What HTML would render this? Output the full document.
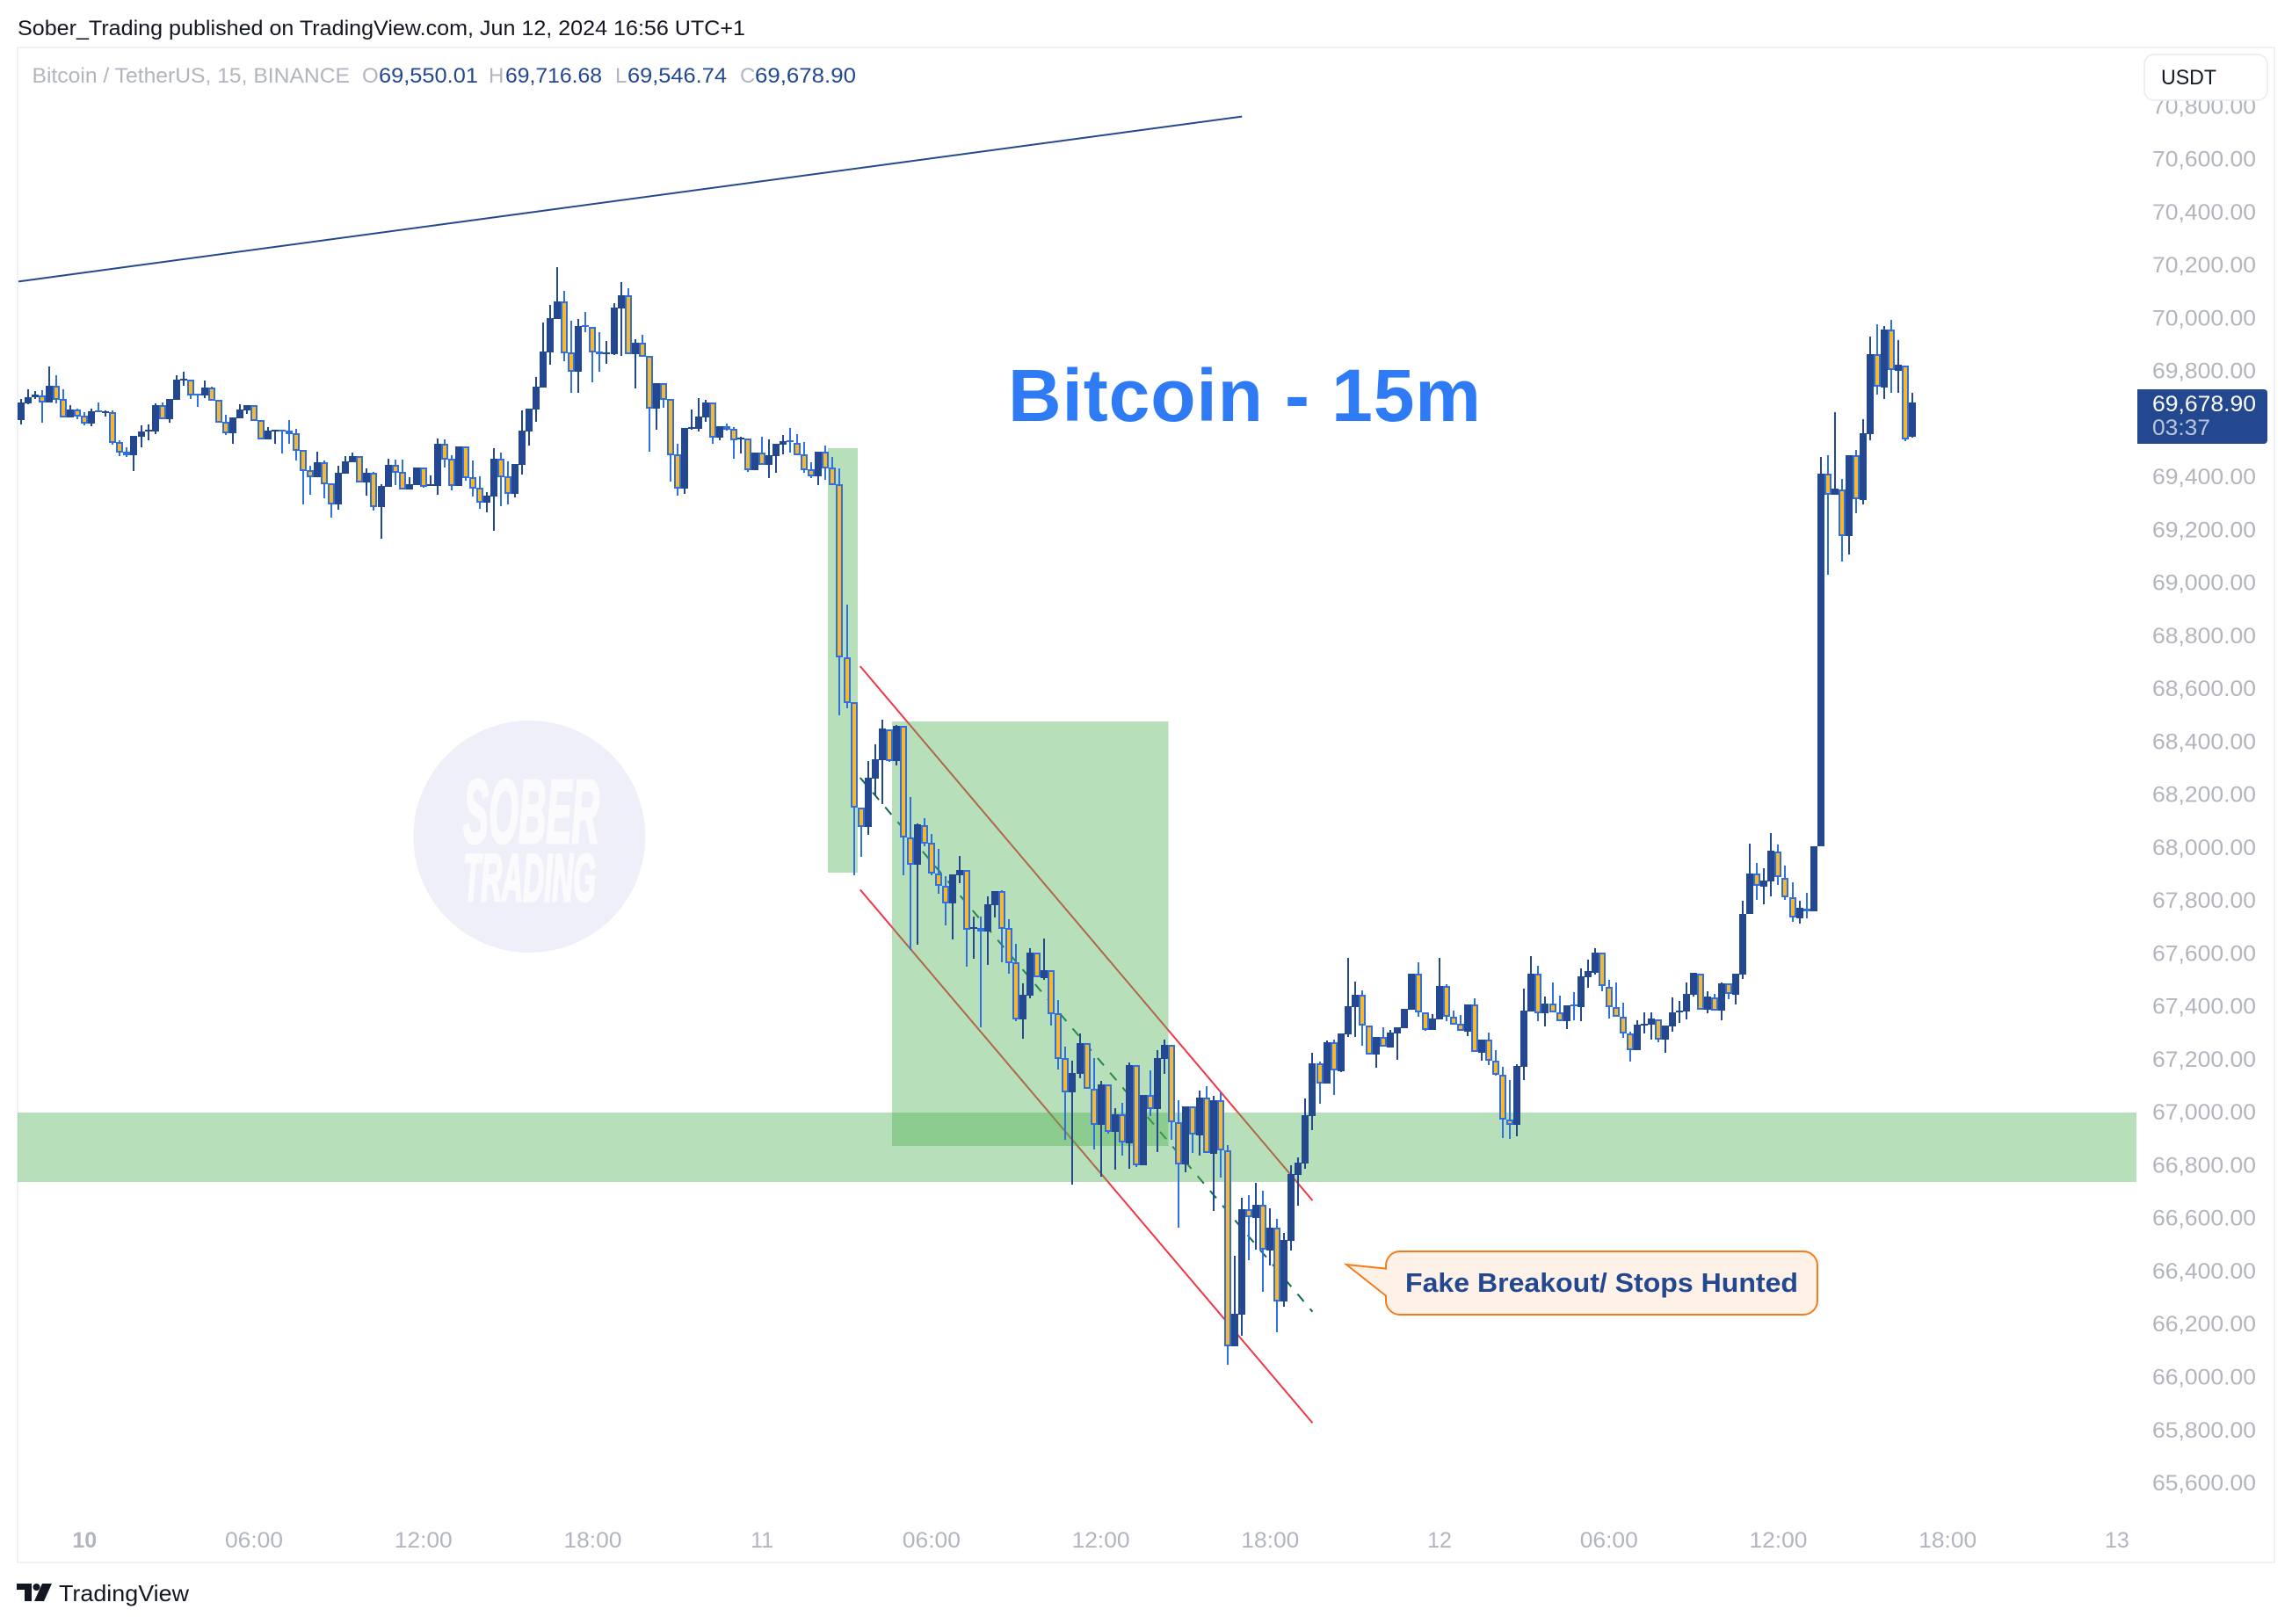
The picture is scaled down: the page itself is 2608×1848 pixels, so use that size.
<!DOCTYPE html>
<html lang="en">
<head>
<meta charset="utf-8">
<title>Bitcoin / TetherUS 15m chart</title>
<style>
html,body{margin:0;padding:0;background:#fff;}
svg{display:block;}
text{font-family:"Liberation Sans",sans-serif;}
</style>
</head>
<body>
<svg id="chart" xmlns="http://www.w3.org/2000/svg" width="2608" height="1848" viewBox="0 0 2608 1848">
  <rect x="0" y="0" width="2608" height="1848" fill="#ffffff"/>
  <text x="20" y="40" font-size="24" fill="#131722" textLength="828" lengthAdjust="spacingAndGlyphs">Sober_Trading published on TradingView.com, Jun 12, 2024 16:56 UTC+1</text>
  <rect x="20" y="54" width="2568" height="1724" fill="none" stroke="#f0f1f7" stroke-width="2" shape-rendering="crispEdges"/>

  <g>
    <circle cx="602.4" cy="952" r="132" fill="#eeeff9"/>
    <text x="527" y="959" font-size="103" font-weight="700" font-style="italic" fill="#fbfbfe" stroke="#fbfbfe" stroke-width="3" textLength="155" lengthAdjust="spacingAndGlyphs">SOBER</text>
    <text x="527" y="1025" font-size="76" font-weight="700" font-style="italic" fill="#fbfbfe" stroke="#fbfbfe" stroke-width="3" textLength="151" lengthAdjust="spacingAndGlyphs">TRADING</text>
  </g>

  <g id="drawings-under"></g>
  <g id="zones"></g>
  <g id="candles" shape-rendering="crispEdges"></g>

  <text x="1147" y="479" font-size="84" font-weight="700" fill="#2f7bf6" textLength="538" lengthAdjust="spacing">Bitcoin - 15m</text>

  <g>
    <path d="M1593 1424 H2052 A16 16 0 0 1 2068 1440 V1480 A16 16 0 0 1 2052 1496 H1593 A16 16 0 0 1 1577 1480 V1474.5 L1532 1439 L1577 1443.6 V1440 A16 16 0 0 1 1593 1424 Z" fill="#fdf1e8" stroke="#f57c17" stroke-width="2"/>
    <text x="1599" y="1470" font-size="31" font-weight="700" fill="#23488f" textLength="447" lengthAdjust="spacingAndGlyphs">Fake Breakout/ Stops Hunted</text>
  </g>

  <g font-size="24">
    <text x="36.5" y="94" fill="#b2b5be" textLength="361.5" lengthAdjust="spacingAndGlyphs">Bitcoin / TetherUS, 15, BINANCE</text>
    <text x="412" y="94" fill="#b2b5be">O</text>
    <text x="431" y="94" fill="#23488f" textLength="113" lengthAdjust="spacingAndGlyphs">69,550.01</text>
    <text x="556" y="94" fill="#b2b5be">H</text>
    <text x="575" y="94" fill="#23488f" textLength="110" lengthAdjust="spacingAndGlyphs">69,716.68</text>
    <text x="700" y="94" fill="#b2b5be">L</text>
    <text x="714" y="94" fill="#23488f" textLength="113" lengthAdjust="spacingAndGlyphs">69,546.74</text>
    <text x="842" y="94" fill="#b2b5be">C</text>
    <text x="859" y="94" fill="#23488f" textLength="115" lengthAdjust="spacingAndGlyphs">69,678.90</text>
  </g>

  <g id="price-axis"></g>
  <g id="time-axis"></g>

  <g id="price-tag"></g>

  <g>
    <rect x="2440" y="62" width="140" height="52" rx="11" fill="#ffffff" stroke="#e9e9f2" stroke-width="1.5"/>
    <text x="2459" y="96" font-size="24" fill="#131722" textLength="63" lengthAdjust="spacingAndGlyphs">USDT</text>
  </g>

  <g>
    <path d="M19 1802 H36 V1822 H28 V1809 H19 Z" fill="#131722"/>
    <circle cx="41.5" cy="1806" r="4" fill="#131722"/>
    <path d="M48 1802 H59 L50 1822 H39 Z" fill="#131722"/>
    <text x="67" y="1822" font-size="26" fill="#131722" textLength="148" lengthAdjust="spacingAndGlyphs">TradingView</text>
  </g>
</svg>

<script>
const opens = [
69613,69676,69699,69706,69679,69742,69692,69623,69653,69629,
69599,69649,69639,69643,69530,69493,69480,69550,69570,69570,
69669,69616,69689,69762,69765,69712,69706,69736,69689,69606,
69563,69619,69649,69669,69613,69540,69570,69576,69573,69563,
69500,69424,69397,69453,69374,69294,69410,69453,69477,69377,
69414,69284,69361,69444,69417,69351,69367,69434,69364,69364,
69523,69467,69364,69513,69397,69357,69301,69324,69467,69400,
69334,69443,69570,69652,69735,69868,69994,70061,69868,69795,
69971,69964,69871,69862,69862,70034,70084,69862,69905,69855,
69656,69752,69692,69483,69354,69579,69579,69623,69679,69546,
69589,69579,69540,69543,69423,69490,69443,69477,69520,69536,
69526,69483,69427,69400,69493,69433,69370,68716,68546,68148,
68077,68259,68328,68444,68325,68458,68037,67934,68084,68015,
67901,67855,67788,67893,67912,67691,67694,67681,67781,67833,
67693,67564,67349,67439,67600,67505,67534,67371,67202,67074,
67143,67258,67088,66951,67102,66924,66990,66880,67176,66798,
67063,67011,67200,67252,66962,66802,67020,66912,67053,66841,
67043,66854,66115,66234,66631,66599,66648,66476,66562,66284,
66513,66762,66805,66984,67182,67107,67262,67152,67293,67396,
67441,67325,67216,67282,67243,67296,67316,67386,67521,67377,
67309,67349,67474,67358,67331,67303,67405,67223,67272,67192,
67141,66972,66951,67170,67380,67521,67374,67408,67375,67343,
67405,67397,67509,67526,67601,67473,67397,67360,67297,67234,
67328,67328,67350,67274,67324,67379,67379,67442,67523,67385,
67433,67383,67484,67442,67519,67746,67899,67851,67871,67984,
67884,67812,67732,67769,67756,68002,69409,69332,69352,69176,
69479,69311,69559,69860,69736,69953,69800,69820,69550];
const highs = [
69692,69729,69722,69726,69815,69782,69729,69669,69656,69643,
69656,69679,69649,69649,69536,69510,69553,69593,69596,69676,
69679,69692,69782,69795,69765,69712,69762,69739,69689,69633,
69623,69673,69669,69669,69613,69586,69576,69576,69613,69580,
69500,69440,69493,69460,69374,69440,69477,69490,69477,69430,
69417,69370,69467,69463,69463,69397,69434,69434,69404,69543,
69540,69480,69513,69513,69460,69400,69340,69506,69490,69457,
69447,69649,69656,69775,69981,70047,70190,70100,69988,69994,
70021,69964,69944,69911,70054,70134,70110,69918,69935,69855,
69752,69752,69692,69523,69583,69652,69696,69689,69679,69589,
69599,69586,69550,69543,69490,69550,69540,69523,69556,69583,
69560,69530,69453,69493,69516,69473,69430,68916,68546,68148,
68325,68388,68481,68444,68461,68458,68189,68089,68109,68049,
67993,67890,67897,67966,67912,67737,67737,67814,67834,67837,
67728,67635,67485,67618,67600,67655,67534,67421,67245,67193,
67296,67258,67203,67117,67102,67014,67034,67187,67176,67064,
67157,67233,67273,67252,67044,67021,67020,67080,67097,67060,
67074,66875,66456,66675,66685,66732,66702,66636,66596,66543,
66798,66828,67050,67223,67190,67270,67273,67296,67581,67492,
67459,67325,67283,67319,67309,67319,67389,67522,67565,67377,
67369,67581,67482,67382,67366,67406,67429,67273,67299,67233,
67170,67120,67180,67465,67587,67552,67434,67489,67440,67402,
67452,67542,67574,67618,67601,67497,67489,67412,67303,67346,
67376,67376,67350,67326,67433,67418,67490,67524,67523,67454,
67447,67489,67484,67522,67797,68013,67939,67920,68053,68010,
67929,67867,67796,67826,68003,69474,69480,69643,69390,69480,
69500,69615,69928,69974,69968,69990,69915,69820,69717];
const lows = [
69596,69673,69692,69603,69679,69676,69623,69623,69616,69593,
69590,69643,69626,69520,69477,69473,69420,69510,69536,69560,
69616,69603,69689,69742,69692,69663,69696,69686,69603,69556,
69523,69619,69636,69609,69540,69540,69523,69487,69523,69460,
69294,69331,69397,69317,69244,69274,69410,69453,69377,69327,
69271,69165,69361,69367,69351,69351,69367,69357,69364,69331,
69433,69347,69364,69384,69324,69277,69264,69194,69287,69294,
69321,69407,69516,69606,69735,69822,69994,69835,69715,69715,
69944,69755,69795,69825,69858,69855,69862,69732,69852,69493,
69576,69659,69380,69327,69334,69576,69570,69606,69523,69536,
69573,69467,69487,69417,69423,69443,69394,69413,69483,69490,
69480,69413,69394,69367,69387,69367,68497,68524,67893,67963,
68046,68195,68162,68322,68308,67893,67611,67631,68003,67893,
67824,67704,67651,67864,67548,67578,67319,67555,67734,67565,
67522,67343,67276,67429,67507,67499,67326,67160,66896,66725,
67127,67088,66858,66755,66918,66782,66835,66785,66792,66798,
66984,66848,67143,66895,66563,66772,66845,66835,66844,66626,
66752,66045,66115,66154,66440,66480,66320,66420,66168,66264,
66476,66646,66785,66931,67031,67107,67064,67150,67283,67283,
67250,67218,67167,67245,67243,67197,67316,67386,67359,67306,
67309,67349,67343,67330,67305,67286,67225,67193,67177,67137,
66901,66898,66908,67120,67380,67342,67322,67375,67343,67313,
67346,67342,67468,67518,67456,67353,67360,67279,67191,67234,
67297,67273,67263,67224,67303,67336,67349,67435,67387,67371,
67384,67346,67427,67405,67502,67746,67801,67783,67814,67857,
67801,67719,67711,67732,67756,68002,69028,69332,69078,69105,
69261,69294,69535,69709,69693,69715,69715,69533,69547];
const closes = [
69679,69699,69709,69680,69742,69689,69623,69653,69626,69599,
69646,69643,69646,69526,69490,69480,69553,69570,69576,69669,
69616,69692,69765,69769,69706,69706,69736,69686,69603,69563,
69623,69653,69669,69609,69540,69573,69576,69570,69560,69497,
69420,69397,69453,69370,69294,69414,69457,69477,69377,69414,
69284,69364,69444,69414,69351,69370,69434,69361,69370,69523,
69463,69364,69513,69394,69354,69301,69327,69467,69397,69334,
69447,69573,69656,69739,69871,69998,70061,69865,69795,69968,
69964,69868,69862,69868,70037,70084,69862,69905,69852,69656,
69752,69689,69480,69354,69583,69586,69626,69679,69546,69589,
69576,69536,69546,69423,69490,69443,69480,69523,69533,69530,
69480,69423,69400,69493,69430,69367,68716,68545,68148,68077,
68262,68332,68448,68325,68458,68037,67934,68086,68013,67901,
67855,67788,67897,67913,67689,67698,67681,67784,67834,67692,
67563,67349,67442,67601,67507,67535,67370,67201,67075,67147,
67260,67088,66952,67104,66925,66991,66883,67177,66798,67064,
67012,67203,67253,66962,66803,67021,66913,67054,66844,67044,
66855,66116,66237,66632,66601,66649,66479,66563,66285,66516,
66765,66808,66987,67183,67107,67263,67156,67296,67399,67442,
67325,67218,67283,67245,67299,67319,67389,67522,67377,67310,
67352,67475,67358,67330,67305,67406,67225,67273,67192,67141,
66972,66952,67173,67382,67522,67374,67408,67375,67343,67402,
67400,67511,67531,67602,67475,67397,67360,67297,67234,67329,
67333,67351,67274,67326,67376,67384,67444,67524,67387,67434,
67384,67485,67444,67522,67746,67900,67854,67873,67986,67886,
67812,67733,67770,67757,68003,69409,69332,69353,69176,69480,
69313,69562,69862,69738,69955,69802,69821,69541,69679];

const priceTicks = [70800,70600,70400,70200,70000,69800,69600,69400,69200,69000,68800,68600,68400,68200,68000,67800,67600,67400,67200,67000,66800,66600,66400,66200,66000,65800,65600];
const hiddenPriceTicks = [69600];
const timeTickBars = [9,33,57,81,105,129,153,177,201,225,249,273,297];
const timeTickLabels = ["10","06:00","12:00","18:00","11","06:00","12:00","18:00","12","06:00","12:00","18:00","13"];
const timeTickBold = ["10"];
const countdownLabel = "03:37";

/* drawings as [bar, price] anchors */
const resistanceLine = [-0.37,70136,173,70759];
const channelUpper = [118.9,68683,183,66665];
const channelMiddle = [118.9,68262,183,66245];
const channelLower = [118.9,67839,183,65825];
const impulseZone = [114.3,69507,118.55,67904];
const consolidationZone = [123.4,68474,162.6,66871];
const supportBand = [-0.5,66997,299.75,66735];

const X0 = 24, BAR_STEP = 8.03, Y0 = 361.3, PRICE_REF = 70000, PX_PER_USD = 0.3013;
const NAVY = "#23488f", BLUE = "#2f6fe0", AMBER = "#fbb826";
function xScale(i){ return X0 + BAR_STEP * i; }
function yScale(p){ return Y0 + (PRICE_REF - p) * PX_PER_USD; }
const SVGNS = "http://www.w3.org/2000/svg";
function mk(parent, tag, attrs){
  const el = document.createElementNS(SVGNS, tag);
  for (const k in attrs) el.setAttribute(k, attrs[k]);
  parent.appendChild(el);
  return el;
}
function fmtPrice(p){ return p.toLocaleString("en-US",{minimumFractionDigits:2,maximumFractionDigits:2}); }

/* trend lines */
const under = document.getElementById("drawings-under");
function drawLine(a, stroke, extra){
  return mk(under, "line", Object.assign({x1:xScale(a[0]),y1:yScale(a[1]),x2:xScale(a[2]),y2:yScale(a[3]),stroke:stroke,"stroke-width":2}, extra||{}));
}
const l0 = drawLine(resistanceLine, NAVY);


const l1 = drawLine(channelUpper, "#f23645");


const l2 = drawLine(channelLower, "#f23645");


const l3 = drawLine(channelMiddle, "#0b6b50", {"stroke-dasharray":"11 11"});



/* zones */
const zones = document.getElementById("zones");
function drawZone(a){
  return mk(zones, "rect", {x:xScale(a[0]),y:yScale(a[1]),width:xScale(a[2])-xScale(a[0]),height:yScale(a[3])-yScale(a[1]),fill:"rgba(76,175,80,0.4)","shape-rendering":"crispEdges"});
}
const z0 = drawZone(supportBand);


const z1 = drawZone(impulseZone);


const z2 = drawZone(consolidationZone);



/* candles */
const candleGroup = document.getElementById("candles");
for (let i = 0; i < closes.length; i++){
  const up = closes[i] >= opens[i];
  const cx = Math.round(xScale(i));
  const left = cx - 4;
  const top = Math.round(yScale(Math.max(opens[i], closes[i])));
  let bot = Math.round(yScale(Math.min(opens[i], closes[i])));
  if (bot - top < 2) bot = top + 2;
  const wickTop = Math.round(yScale(highs[i]));
  const wickBot = Math.round(yScale(lows[i]));
  const wick = mk(candleGroup, "rect", {x:cx-1,y:wickTop,width:2,height:Math.max(wickBot-wickTop,1),fill:up?NAVY:BLUE});
  
  
  const body = mk(candleGroup, "rect", {x:left,y:top,width:8,height:bot-top,fill:up?NAVY:BLUE});
  
  
  if (!up && bot - top > 4){
    const inner = mk(candleGroup, "rect", {x:left+2,y:top+2,width:4,height:bot-top-4,fill:AMBER});
    
    
  }
}

/* price axis */
const pAxis = document.getElementById("price-axis");
priceTicks.forEach(function(p){
  if (hiddenPriceTicks.indexOf(p) >= 0) return;
  const t = mk(pAxis, "text", {x:2449,y:yScale(p)+9,"font-size":25,fill:"#b2b5be",textLength:118,lengthAdjust:"spacingAndGlyphs"});
  t.textContent = fmtPrice(p);
  
  
});

/* time axis */
const tAxis = document.getElementById("time-axis");
timeTickLabels.forEach(function(label, k){
  const isDay = label.length === 2;
  const attrs = {x:xScale(timeTickBars[k]),y:1761,"font-size":25,fill:"#b2b5be","text-anchor":"middle"};
  if (timeTickBold.indexOf(label) >= 0) attrs["font-weight"] = 700;
  if (!isDay){ attrs.textLength = 66; attrs.lengthAdjust = "spacingAndGlyphs"; }
  const t = mk(tAxis, "text", attrs);
  t.textContent = label;
  
  
});

/* current price tag */
const tag = document.getElementById("price-tag");
const lastClose = closes[closes.length-1];
const tagTop = Math.round(yScale(lastClose)) - 15;
const tagBg = mk(tag, "path", {d:"M2432 "+tagTop+" H2576 a4 4 0 0 1 4 4 V"+(tagTop+58)+" a4 4 0 0 1 -4 4 H2432 Z",fill:NAVY});


const tagPrice = mk(tag, "text", {x:2449,y:tagTop+25,"font-size":25,fill:"#ffffff",textLength:118,lengthAdjust:"spacingAndGlyphs"});
tagPrice.textContent = "69,678.90";


const tagCount = mk(tag, "text", {x:2449,y:tagTop+52,"font-size":25,fill:"#b9c4da",textLength:66,lengthAdjust:"spacingAndGlyphs"});
tagCount.textContent = countdownLabel;


</script>
</body>
</html>
